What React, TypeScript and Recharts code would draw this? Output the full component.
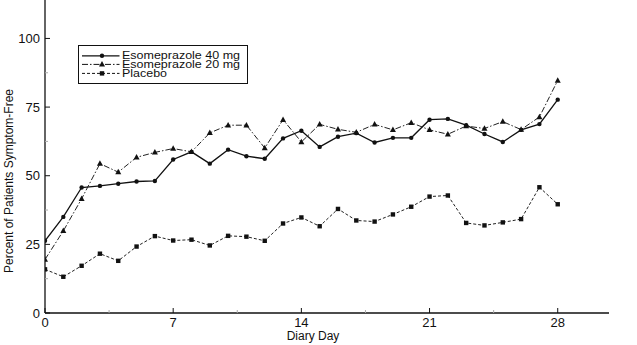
import React from 'react';
import { Legend, Line, LineChart, XAxis, YAxis } from 'recharts';

const days = [0, 1, 2, 3, 4, 5, 6, 7, 8, 9, 10, 11, 12, 13, 14, 15, 16, 17, 18, 19, 20, 21, 22, 23, 24, 25, 26, 27, 28];
const eso40 = [26.3, 35, 45.7, 46.3, 47.1, 47.9, 48.1, 55.9, 58.7, 54.4, 59.5, 57.1, 56.2, 63.6, 66.4, 60.5, 64.2, 65.5, 62.1, 63.8, 63.8, 70.4, 70.7, 68.4, 65.2, 62.3, 66.7, 68.8, 77.7];
const eso20 = [19.5, 29.9, 41.6, 54.4, 51.3, 56.7, 58.5, 59.9, 58.7, 65.6, 68.4, 68.4, 60.1, 70.4, 62.3, 68.7, 66.9, 65.8, 68.7, 66.7, 69.3, 66.7, 65.1, 68.1, 67.2, 69.7, 66.8, 71.4, 84.7];
const placebo = [15.9, 13.2, 17.2, 21.6, 19.0, 24.2, 28.0, 26.4, 26.7, 24.6, 28.1, 27.8, 26.3, 32.6, 34.8, 31.6, 37.9, 33.7, 33.3, 35.9, 38.7, 42.4, 42.8, 32.8, 31.9, 33.0, 34.2, 45.8, 39.6];

const seriesNames = ['Esomeprazole 40 mg', 'Esomeprazole 20 mg', 'Placebo'];
const xTicks = [0, 3.5, 7, 10.5, 14, 17.5, 21, 24.5, 28];
const xLabels = [0, 7, 14, 21, 28];
const yTicks = [0, 12.5, 25, 37.5, 50, 62.5, 75, 87.5, 100];
const yLabels = [0, 25, 50, 75, 100];

const data = days.map((day, i) => ({
  day,
  eso40: eso40[i],
  eso20: eso20[i],
  placebo: placebo[i],
}));

const INK = '#111';
const FONT = '"Liberation Sans", Arial, sans-serif';

const CircleDot = (p: any) => (
  <circle key={`c${p.index}`} cx={p.cx} cy={p.cy} r={2.2} fill={INK} />
);

const TriangleDot = (p: any) => (
  <polygon
    key={`t${p.index}`}
    points={`${p.cx},${p.cy - 3.3} ${p.cx - 3},${p.cy + 2.2} ${p.cx + 3},${p.cy + 2.2}`}
    fill={INK}
  />
);

const SquareDot = (p: any) => (
  <rect key={`s${p.index}`} x={p.cx - 2.2} y={p.cy - 2.2} width={4.4} height={4.4} fill={INK} />
);

const XTick = ({ x, y, payload }: any) => {
  const major = xLabels.includes(payload.value);
  return (
    <g>
      <line x1={x} x2={x} y1={y} y2={y - (major ? 5 : 3)} stroke={major ? INK : '#aaa'} />
      {major && (
        <text x={x} y={y + 14} textAnchor="middle" fontSize={13} fontFamily={FONT} fill={INK}>
          {payload.value}
        </text>
      )}
    </g>
  );
};

const YTick = ({ x, y, payload }: any) => {
  const major = yLabels.includes(payload.value);
  return (
    <g>
      <line x1={x} x2={x + (major ? 5 : 3)} y1={y} y2={y} stroke={major ? INK : '#aaa'} />
      {major && (
        <text x={x - 5} y={y + 4.6} textAnchor="end" fontSize={13} fontFamily={FONT} fill={INK}>
          {payload.value}
        </text>
      )}
    </g>
  );
};

const XTitle = () => (
  <text x={313} y={340} textAnchor="middle" fontSize={12} fontFamily={FONT} fill={INK}>
    Diary Day
  </text>
);

const YTitle = () => (
  <text
    x={12.5}
    y={181}
    transform="rotate(-90 12.5 181)"
    textAnchor="middle"
    fontSize={12}
    fontFamily={FONT}
    fill={INK}
  >
    Percent of Patients Symptom-Free
  </text>
);

const LegendBox = () => {
  const rows = [
    { dash: undefined, width: 1.3, y: 10.8, base: 13.9, text: 118 },
    { dash: '6 2 1.5 2', width: 1, y: 19.4, base: 22.9, text: 118 },
    { dash: '3 2', width: 1, y: 28.4, base: 32.4, text: 45 },
  ];
  return (
    <svg width={171} height={40}>
      <rect x={0.5} y={0.5} width={169} height={38} fill="#fff" stroke={INK} />
      {rows.map((r, i) => (
        <g key={seriesNames[i]}>
          <line x1={4} x2={41.5} y1={r.y} y2={r.y} stroke={INK} strokeWidth={r.width} strokeDasharray={r.dash} />
          {i === 0 && <CircleDot cx={24} cy={r.y} index="l" />}
          {i === 1 && <TriangleDot cx={24} cy={r.y} index="l" />}
          {i === 2 && <SquareDot cx={24} cy={r.y} index="l" />}
          <text
            x={44}
            y={r.base}
            fontSize={11.5}
            fontFamily={FONT}
            fill={INK}
            textLength={r.text}
            lengthAdjust="spacingAndGlyphs"
          >
            {seriesNames[i]}
          </text>
        </g>
      ))}
    </svg>
  );
};

export default function App() {
  return (
    <div style={{ width: 637, height: 345, background: '#fff' }}>
      <style>{'body{margin:0}'}</style>
      <LineChart width={637} height={345} data={data} margin={{ top: 0, right: 28, left: 0, bottom: 0 }}>
        <XAxis
          dataKey="day"
          type="number"
          domain={[0, 30.8]}
          ticks={xTicks}
          interval={0}
          allowDataOverflow
          height={32}
          tickSize={0}
          tickMargin={0}
          tickLine={false}
          tick={<XTick />}
          axisLine={{ stroke: INK, strokeWidth: 1.3 }}
          label={<XTitle />}
        />
        <YAxis
          type="number"
          domain={[0, 114]}
          ticks={yTicks}
          interval={0}
          allowDataOverflow
          width={45}
          tickSize={0}
          tickMargin={0}
          tickLine={false}
          tick={<YTick />}
          axisLine={{ stroke: INK, strokeWidth: 1.3 }}
          label={<YTitle />}
        />
        <Legend
          layout="horizontal"
          verticalAlign="middle"
          content={<LegendBox />}
          wrapperStyle={{ position: 'absolute', left: 77.5, top: 44.5, width: 171, height: 40 }}
        />
        <Line
          type="linear"
          dataKey="eso40"
          name={seriesNames[0]}
          stroke={INK}
          strokeWidth={1.3}
          dot={CircleDot}
          activeDot={false}
          isAnimationActive={false}
        />
        <Line
          type="linear"
          dataKey="eso20"
          name={seriesNames[1]}
          stroke="#222"
          strokeWidth={1}
          strokeDasharray="6 2 1.5 2"
          dot={TriangleDot}
          activeDot={false}
          isAnimationActive={false}
        />
        <Line
          type="linear"
          dataKey="placebo"
          name={seriesNames[2]}
          stroke="#222"
          strokeWidth={1}
          strokeDasharray="3 2"
          dot={SquareDot}
          activeDot={false}
          isAnimationActive={false}
        />
      </LineChart>
    </div>
  );
}
